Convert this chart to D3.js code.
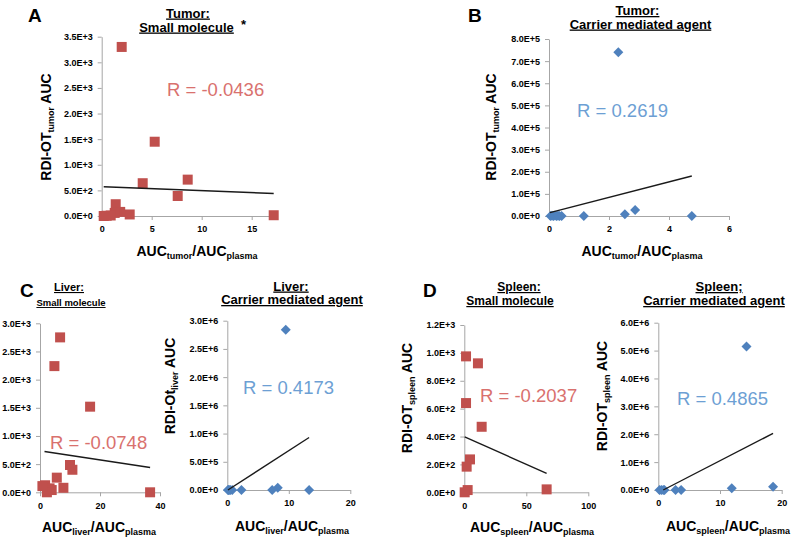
<!DOCTYPE html>
<html><head><meta charset="utf-8">
<script src="https://cdn.jsdelivr.net/npm/d3@7"></script>
<style>body{margin:0;background:#fff} svg text{font-family:"Liberation Sans",Arial,sans-serif}</style>
</head><body><svg id="c" width="800" height="540"></svg>
<script>
// ---- data ----
const A_x = [2.0, 5.3, 4.1, 8.6, 7.6, 17.2, 2.8, 1.4, 1.85, 1.3, 0.5, 0.2, 0.9];
const A_y = [3300, 1450, 640, 710, 390, 15, 30, 230, 80, 60, 5, 0, 10];
const A_trend = [[0.2, 570], [17.2, 440]];
const A_xticks = [0, 5, 10, 15];
const A_yticks = [0, 500, 1000, 1500, 2000, 2500, 3000, 3500];

const B_x = [2.31, 2.87, 2.53, 4.76, 1.16, 0.05, 0.1, 0.15, 0.2, 0.25, 0.3, 0.35, 0.42];
const B_y = [740000, 27000, 8000, 0, 0, 0, 1000, 0, 2000, 0, 1000, 0, 0];
const B_trend = [[0.03, 15000], [4.76, 181000]];
const B_xticks = [0, 2, 4, 6];
const B_yticks = [0, 1e5, 2e5, 3e5, 4e5, 5e5, 6e5, 7e5, 8e5];

const CL_x = [6.7, 4.8, 16.7, 10.0, 10.8, 5.6, 7.8, 36.7, 1.7, 3.2, 3.9, 2.3, 0.8];
const CL_y = [2750, 2240, 1520, 485, 400, 260, 80, 0, 125, 70, 40, 0, 110];
const CL_trend = [[1.5, 725], [36.7, 440]];
const CL_xticks = [0, 20, 40];
const CL_yticks = [0, 500, 1000, 1500, 2000, 2500, 3000];

const CR_x = [9.5, 8.2, 7.3, 13.3, 2.3, 0.1, 0.3, 0.5, 0.8, 0.2];
const CR_y = [2840000, 40000, 0, 0, 0, 0, 0, 0, 0, 0];
const CR_trend = [[0.1, 0], [13.3, 930000]];
const CR_xticks = [0, 10, 20];
const CR_yticks = [0, 5e5, 1e6, 1.5e6, 2e6, 2.5e6, 3e6];

const DL_x = [1.4, 11, 1.4, 14, 4.6, 1.9, 2.7, 0.3, 66.4];
const DL_y = [975, 925, 640, 470, 236, 184, 16, 0, 21];
const DL_trend = [[0.3, 397], [66.4, 136]];
const DL_xticks = [0, 50, 100];
const DL_yticks = [0, 200, 400, 600, 800, 1000, 1200];

const DR_x = [14.3, 18.6, 11.9, 3.7, 2.8, 0.2, 0.5, 0.8, 1.0];
const DR_y = [5150000, 120000, 60000, 0, 0, 0, 0, 0, 0];
const DR_trend = [[0.8, 0], [18.6, 2030000]];
const DR_xticks = [0, 10, 20];
const DR_yticks = [0, 1e6, 2e6, 3e6, 4e6, 5e6, 6e6];

const R_texts = ["R = -0.0436", "R = 0.2619", "R = -0.0748", "R = 0.4173", "R = -0.2037", "R = 0.4865"];

// ---- drawing ----
const svg = d3.select("#c");
const RED = "#c0504d", BLUE = "#4f81bd", RTXT_RED = "#d9716e", RTXT_BLUE = "#6d9fd4";
const FONT = '"Liberation Sans",Arial,sans-serif';

function sci(v){
  if (v === 0) return "0.0E+0";
  const e = Math.floor(Math.log10(v) + 1e-9);
  return (v / Math.pow(10, e)).toFixed(1) + "E+" + e;
}

const panels = [
  {xs:A_x, ys:A_y, trend:A_trend, xt:A_xticks, yt:A_yticks, xd:[0,17.5], kind:"sq",
   xr:[101.7,276.7], yr:[216,36.7], r:R_texts[0], rx:167, ry:96,
   xl:{x:197,y:256,org:"tumor"}, yl:{x:51,y:127,main:"RDI-OT",sub:"tumor"}},
  {xs:B_x, ys:B_y, trend:B_trend, xt:B_xticks, yt:B_yticks, xd:[0,6], kind:"di",
   xr:[549,729], yr:[216,39], r:R_texts[1], rx:577, ry:117,
   xl:{x:642,y:256,org:"tumor"}, yl:{x:496,y:127,main:"RDI-OT",sub:"tumor"}},
  {xs:CL_x, ys:CL_y, trend:CL_trend, xt:CL_xticks, yt:CL_yticks, xd:[0,40], kind:"sq",
   xr:[40,160], yr:[492.3,323.3], r:R_texts[2], rx:50, ry:449,
   xl:{x:99,y:532,org:"liver"}, yl:null},
  {xs:CR_x, ys:CR_y, trend:CR_trend, xt:CR_xticks, yt:CR_yticks, xd:[0,20], kind:"di",
   xr:[227.3,350.3], yr:[490,320.7], r:R_texts[3], rx:243, ry:394,
   xl:{x:292,y:531,org:"liver"}, yl:{x:175,y:386,main:"RDI-Ot",sub:"liver"}},
  {xs:DL_x, ys:DL_y, trend:DL_trend, xt:DL_xticks, yt:DL_yticks, xd:[0,100], kind:"sq",
   xr:[464.3,588.3], yr:[492.3,325], r:R_texts[4], rx:480, ry:402,
   xl:{x:532,y:532,org:"spleen"}, yl:{x:412,y:398,main:"RDI-OT",sub:"spleen"}},
  {xs:DR_x, ys:DR_y, trend:DR_trend, xt:DR_xticks, yt:DR_yticks, xd:[0,20], kind:"di",
   xr:[658.3,781.7], yr:[490,322.7], r:R_texts[5], rx:677, ry:405,
   xl:{x:728,y:531,org:"spleen"}, yl:{x:607,y:396,main:"RDI-OT",sub:"spleen"}}
];

panels.forEach(p => {
  const x = d3.scaleLinear().domain(p.xd).range(p.xr);
  const y = d3.scaleLinear().domain([0, d3.max(p.yt)]).range(p.yr);
  const g = svg.append("g");

  const gx = g.append("g").attr("transform", `translate(0,${p.yr[0]})`)
    .call(d3.axisBottom(x).tickValues(p.xt).tickFormat(d3.format("d")).tickSize(4).tickSizeOuter(0).tickPadding(6));
  const gy = g.append("g").attr("transform", `translate(${p.xr[0]},0)`)
    .call(d3.axisLeft(y).tickValues(p.yt).tickFormat(sci).tickSize(4).tickSizeOuter(0).tickPadding(5));
  [gx, gy].forEach(a => {
    a.attr("font-family", FONT).attr("font-size", 9).attr("font-weight", "bold");
    a.select(".domain").attr("stroke", "#a6a6a6");
    a.selectAll(".tick line").attr("stroke", "#a6a6a6");
    a.selectAll(".tick text").attr("fill", "#000");
  });

  const pts = p.xs.map((v, i) => [v, p.ys[i]]);
  const sym = p.kind === "sq" ? d3.symbol(d3.symbolSquare, 100) : d3.symbol(d3.symbolSquare, 50);
  g.selectAll("path.pt").data(pts).join("path").attr("class", "pt")
    .attr("d", sym)
    .attr("transform", d => `translate(${x(d[0])},${y(d[1])})` + (p.kind === "di" ? " rotate(45)" : ""))
    .attr("fill", p.kind === "sq" ? RED : BLUE);

  g.append("path").datum(p.trend)
    .attr("d", d3.line().x(d => x(d[0])).y(d => y(d[1])))
    .attr("stroke", "#1a1a1a").attr("stroke-width", 1.4).attr("fill", "none");

  g.append("text").attr("x", p.rx).attr("y", p.ry).attr("font-size", 18.5)
    .attr("fill", p.kind === "sq" ? RTXT_RED : RTXT_BLUE).text(p.r);

  const xl = g.append("text").attr("x", p.xl.x).attr("y", p.xl.y).attr("text-anchor", "middle")
    .attr("font-size", 14).attr("font-weight", "bold");
  xl.append("tspan").text("AUC");
  xl.append("tspan").attr("font-size", 9).attr("dy", 3).text(p.xl.org);
  xl.append("tspan").attr("dy", -3).text("/AUC");
  xl.append("tspan").attr("font-size", 9).attr("dy", 3).text("plasma");

  if (p.yl) {
    const yl = g.append("text").attr("transform", `translate(${p.yl.x},${p.yl.y}) rotate(-90)`)
      .attr("text-anchor", "middle").attr("font-size", 14).attr("font-weight", "bold");
    yl.append("tspan").text(p.yl.main);
    yl.append("tspan").attr("font-size", 9).attr("dy", 3).text(p.yl.sub);
    yl.append("tspan").attr("dy", -3).text(" AUC");
  }
});

// titles and panel letters
const titles = [
  {x:188, y:17.5, t:"Tumor:", fs:13}, {x:186.5, y:31.5, t:"Small molecule", fs:13},
  {x:637.5, y:15, t:"Tumor:", fs:13}, {x:640.5, y:28.5, t:"Carrier mediated agent", fs:13},
  {x:69, y:291, t:"Liver:", fs:11}, {x:71, y:306, t:"Small molecule", fs:9.5},
  {x:291, y:290.5, t:"Liver:", fs:13}, {x:292, y:304, t:"Carrier mediated agent", fs:13},
  {x:519, y:291, t:"Spleen:", fs:12}, {x:510, y:305, t:"Small molecule", fs:12},
  {x:719, y:291, t:"Spleen;", fs:13}, {x:714, y:305, t:"Carrier mediated agent", fs:13}
];
svg.selectAll("text.title").data(titles).join("text").attr("class", "title")
  .attr("x", d => d.x).attr("y", d => d.y).attr("text-anchor", "middle")
  .attr("font-size", d => d.fs).attr("font-weight", "bold")
  .style("text-decoration", "underline").text(d => d.t);
svg.append("text").attr("x", 241).attr("y", 29).attr("font-size", 13).attr("font-weight", "bold").text("*");

const letters = [{x:28, y:22, t:"A"}, {x:468, y:22, t:"B"}, {x:20, y:297, t:"C"}, {x:423, y:297, t:"D"}];
svg.selectAll("text.letter").data(letters).join("text").attr("class", "letter")
  .attr("x", d => d.x).attr("y", d => d.y).attr("font-size", 19).attr("font-weight", "bold").text(d => d.t);
</script></body></html>
